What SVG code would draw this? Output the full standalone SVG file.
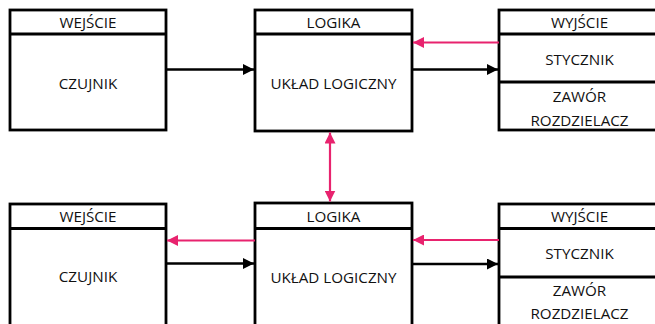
<svg xmlns="http://www.w3.org/2000/svg" width="655" height="324" viewBox="0 0 655 324">
<style>
.box{fill:#fff;stroke:#000;stroke-width:2.8}
.div{stroke:#000;stroke-width:2.8}
.t{font-family:"Open Sans","Liberation Sans",sans-serif;font-size:15.2px;fill:#111;text-anchor:middle}
.blk{stroke:#000;stroke-width:2.4;fill:none}
.pnk{stroke:#E8236E;stroke-width:2.2;fill:none}
</style>
<defs>
<marker id="ab" markerUnits="userSpaceOnUse" markerWidth="12" markerHeight="11" refX="11" refY="5.5" orient="auto">
<path d="M0,0 L11,5.5 L0,11 Z" fill="#000"/>
</marker>
<marker id="ap" markerUnits="userSpaceOnUse" markerWidth="12" markerHeight="11" refX="11" refY="5.5" orient="auto-start-reverse">
<path d="M0,0 L11,5.5 L0,11 Z" fill="#E8236E"/>
</marker>
</defs>
<rect width="655" height="324" fill="#fff"/>

<g id="wejscie1">
<rect class="box" x="10" y="10" width="156" height="120"/>
<line class="div" x1="10" y1="34" x2="166" y2="34"/>
<text class="t" x="88" y="28">WEJŚCIE</text>
<text class="t" x="88" y="88.5">CZUJNIK</text>
</g>
<g id="logika1">
<rect class="box" x="255" y="10" width="157" height="121"/>
<line class="div" x1="255" y1="34" x2="412" y2="34"/>
<text class="t" x="333.5" y="28">LOGIKA</text>
<text class="t" x="333.5" y="88.5">UKŁAD LOGICZNY</text>
</g>
<g id="wyjscie1">
<rect class="box" x="499" y="10" width="162" height="120"/>
<line class="div" x1="499" y1="34" x2="661" y2="34"/>
<line class="div" x1="499" y1="82" x2="661" y2="82"/>
<text class="t" x="579.5" y="28">WYJŚCIE</text>
<text class="t" x="579.5" y="64.5">STYCZNIK</text>
<text class="t" x="579.5" y="101.5">ZAWÓR</text>
<text class="t" x="579.5" y="125.5">ROZDZIELACZ</text>
</g>

<g id="wejscie2">
<rect class="box" x="10" y="204" width="156" height="130"/>
<line class="div" x1="10" y1="228.5" x2="166" y2="228.5"/>
<text class="t" x="88" y="222">WEJŚCIE</text>
<text class="t" x="88" y="282">CZUJNIK</text>
</g>
<g id="logika2">
<rect class="box" x="255" y="203" width="157" height="131"/>
<line class="div" x1="255" y1="228.5" x2="412" y2="228.5"/>
<text class="t" x="333.5" y="222">LOGIKA</text>
<text class="t" x="333.5" y="282.5">UKŁAD LOGICZNY</text>
</g>
<g id="wyjscie2">
<rect class="box" x="499" y="204" width="162" height="130"/>
<line class="div" x1="499" y1="228.5" x2="661" y2="228.5"/>
<line class="div" x1="499" y1="277" x2="661" y2="277"/>
<text class="t" x="579.5" y="222">WYJŚCIE</text>
<text class="t" x="579.5" y="258.5">STYCZNIK</text>
<text class="t" x="579.5" y="296">ZAWÓR</text>
<text class="t" x="579.5" y="319">ROZDZIELACZ</text>
</g>

<g id="connectors">
<line class="blk" x1="166" y1="69.5" x2="254" y2="69.5" marker-end="url(#ab)"/>
<line class="blk" x1="412" y1="69.5" x2="498" y2="69.5" marker-end="url(#ab)"/>
<line class="pnk" x1="499" y1="42.5" x2="413" y2="42.5" marker-end="url(#ap)"/>
<line class="pnk" x1="330" y1="132.5" x2="330" y2="201.5" marker-start="url(#ap)" marker-end="url(#ap)"/>
<line class="pnk" x1="255" y1="240.5" x2="167" y2="240.5" marker-end="url(#ap)"/>
<line class="blk" x1="166" y1="263.5" x2="254" y2="263.5" marker-end="url(#ab)"/>
<line class="pnk" x1="499" y1="240" x2="413" y2="240" marker-end="url(#ap)"/>
<line class="blk" x1="412" y1="264" x2="498" y2="264" marker-end="url(#ab)"/>
</g>
</svg>
